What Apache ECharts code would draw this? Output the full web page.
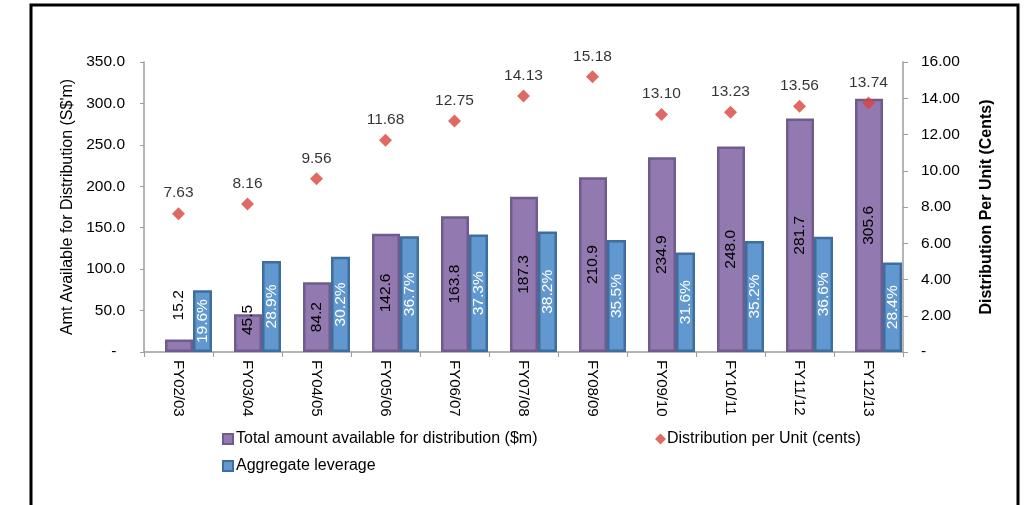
<!DOCTYPE html>
<html>
<head>
<meta charset="utf-8">
<script src="https://cdn.jsdelivr.net/npm/echarts@6/dist/echarts.min.js"></script>
<style>
html,body{margin:0;padding:0;background:#fff;}
#chart{width:1036px;height:505px;}
</style>
</head>
<body>
<div id="chart"></div>
<script>
const categories = ['FY02/03','FY03/04','FY04/05','FY05/06','FY06/07','FY07/08','FY08/09','FY09/10','FY10/11','FY11/12','FY12/13'];
const totalAmount = [15.2, 45.5, 84.2, 142.6, 163.8, 187.3, 210.9, 234.9, 248.0, 281.7, 305.6];
const leverage = [19.6, 28.9, 30.2, 36.7, 37.3, 38.2, 35.5, 31.6, 35.2, 36.6, 28.4];
const dpu = [7.63, 8.16, 9.56, 11.68, 12.75, 14.13, 15.18, 13.10, 13.23, 13.56, 13.74];
const leftTicks = { min: 0, max: 350, interval: 50 };
const rightTicks = { min: 0, max: 16, interval: 2 };

const FONT = 'Liberation Sans, Arial, sans-serif';
const purple = '#9279B0', purpleBorder = '#6E5C8E';
const blue = '#6098CF', blueBorder = '#3E6E9E';
const red = '#D8433C';
const axisCol = '#9C9C9C';
const FS = 15.5, FS_TITLE = 16, FS_X = 15;

const totalData = totalAmount.map((v, i) => {
  if (i === 0) return { value: v, label: { position: 'top', align: 'left', verticalAlign: 'middle', distance: 19 } };
  if (i === 1) return { value: v, label: { position: 'insideBottom', align: 'left', verticalAlign: 'middle', distance: 17 } };
  return v;
});

const chart = echarts.init(document.getElementById('chart'));
chart.setOption({
  animation: false,
  textStyle: { fontFamily: FONT },
  grid: { left: 144, right: 133, top: 62, bottom: 153 },
  graphic: [{
    type: 'polyline',
    shape: { points: [[31, 505], [31, 5], [1018, 5], [1018, 505]] },
    style: { stroke: '#000', lineWidth: 3, fill: null }
  }],
  xAxis: {
    type: 'category',
    data: categories,
    axisLine: { lineStyle: { color: axisCol, width: 1.5 } },
    axisTick: { show: true, length: 5, lineStyle: { color: axisCol } },
    axisLabel: { rotate: -90, margin: 8, color: '#000', fontSize: FS_X, fontFamily: FONT }
  },
  yAxis: [{
    type: 'value', min: leftTicks.min, max: leftTicks.max, interval: leftTicks.interval,
    name: "Amt Available for Distribution (S$'m)",
    nameLocation: 'middle', nameGap: 65,
    nameTextStyle: { color: '#000', fontSize: FS_TITLE, fontFamily: FONT },
    axisLine: { show: true, lineStyle: { color: axisCol, width: 1.5 } },
    axisTick: { show: true, length: 4, lineStyle: { color: axisCol } },
    splitLine: { show: false },
    axisLabel: { color: '#000', fontSize: FS, margin: 19, fontFamily: FONT,
      formatter: v => v === 0 ? '-  ' : v.toFixed(1) }
  }, {
    type: 'value', min: rightTicks.min, max: rightTicks.max, interval: rightTicks.interval,
    position: 'right',
    name: 'Distribution Per Unit (Cents)',
    nameLocation: 'middle', nameGap: 76, nameRotate: 90,
    nameTextStyle: { color: '#000', fontSize: FS_TITLE, fontWeight: 'bold', fontFamily: FONT },
    axisLine: { show: true, lineStyle: { color: axisCol, width: 1.5 } },
    axisTick: { show: true, length: 5, lineStyle: { color: axisCol } },
    splitLine: { show: false },
    axisLabel: { color: '#000', fontSize: FS, margin: 18, fontFamily: FONT,
      formatter: v => v === 0 ? '-' : v.toFixed(2) }
  }, {
    type: 'value', min: 0, max: 92, show: false, splitLine: { show: false }
  }],
  legend: [{
    left: 222, top: 431, padding: 0, itemWidth: 10, itemHeight: 10, itemGap: 0,
    textStyle: { color: '#000', fontSize: FS_TITLE, fontFamily: FONT, padding: [0, 0, 0, -2] },
    data: [{ name: 'Total amount available for distribution ($m)', icon: 'rect' }]
  }, {
    left: 222, top: 458, padding: 0, itemWidth: 10, itemHeight: 10, itemGap: 0,
    textStyle: { color: '#000', fontSize: FS_TITLE, fontFamily: FONT, padding: [0, 0, 0, -2] },
    data: [{ name: 'Aggregate leverage', icon: 'rect' }]
  }, {
    left: 655, top: 431, padding: 0, itemWidth: 11, itemHeight: 11, itemGap: 0,
    textStyle: { color: '#000', fontSize: FS_TITLE, fontFamily: FONT, padding: [0, 0, 0, -4] },
    data: [{ name: 'Distribution per Unit (cents)', icon: 'diamond' }]
  }],
  series: [{
    name: '_spacer', type: 'bar', barWidth: 20, barGap: '0%', data: [], silent: true
  }, {
    name: 'Total amount available for distribution ($m)',
    type: 'bar', barWidth: 28, barGap: '0%',
    itemStyle: { color: purple, borderColor: purpleBorder, borderWidth: 2.5 },
    label: { show: true, position: 'inside', rotate: 90, color: '#000', fontSize: FS, fontFamily: FONT,
      formatter: p => Number(p.value).toFixed(1) },
    data: totalData
  }, {
    name: 'Aggregate leverage',
    type: 'bar', barWidth: 19, barGap: '0%', yAxisIndex: 2,
    itemStyle: { color: blue, borderColor: blueBorder, borderWidth: 2.5 },
    label: { show: true, position: 'inside', rotate: 90, color: '#fff', fontSize: FS, fontFamily: FONT,
      formatter: p => Number(p.value).toFixed(1) + '%' },
    data: leverage
  }, {
    name: 'Distribution per Unit (cents)',
    type: 'scatter', yAxisIndex: 1, symbol: 'diamond', symbolSize: 13,
    itemStyle: { color: red },
    label: { show: true, position: 'top', distance: 6, color: '#000', fontSize: FS, fontFamily: FONT,
      formatter: p => Number(p.value).toFixed(2) },
    data: dpu
  }]
});
</script>
</body>
</html>
